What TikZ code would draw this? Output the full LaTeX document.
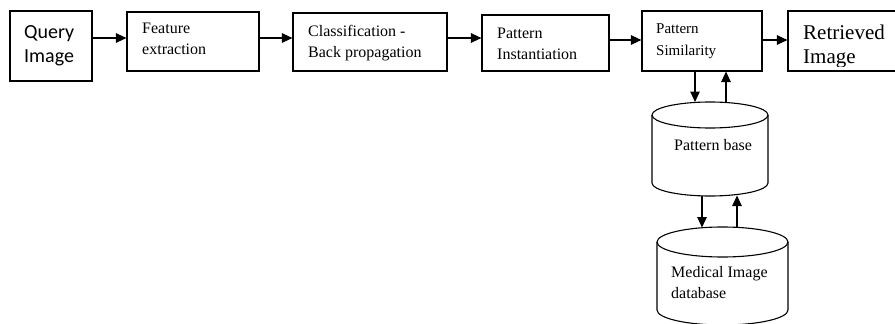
\documentclass[tikz,border=0pt]{standalone}
\usepackage{fontspec}
\setmainfont{Liberation Serif}
\newfontfamily\calfont{Carlito}
\usetikzlibrary{arrows.meta}
\begin{document}
\begin{tikzpicture}[x=1pt,y=-1pt,
  box/.style={draw,line width=1.1pt,inner sep=0pt},
  arr/.style={line width=1.1pt,-{Triangle[length=10.5pt,width=9.5pt]}},
  txt/.style={anchor=base west,inner sep=0pt,font=\fontsize{16}{19}\selectfont},
  qtxt/.style={anchor=base west,inner sep=0pt,font=\calfont\fontsize{20}{24}\selectfont},
  cyl/.style={draw,line width=1.1pt}]
\useasboundingbox (0,0) rectangle (895,324);
% boxes
\node[box,minimum width=82pt,minimum height=70pt] (qi) at (51,46) {};
\node[box,minimum width=132pt,minimum height=59pt] (fe) at (193,41.5) {};
\node[box,minimum width=154pt,minimum height=58pt] (cb) at (370,42) {};
\node[box,minimum width=127pt,minimum height=56pt] (pi) at (545.5,43) {};
\node[box,minimum width=120pt,minimum height=60pt] (ps) at (702,41) {};
\node[box,minimum width=120pt,minimum height=60pt] (ri) at (848,41) {};
% texts
\node[qtxt] (qi1) at (24,38) {Query};
\node[qtxt] (qi2) at (24,62) {Image};
\node[txt] (fe1) at (142,33) {Feature};
\node[txt] (fe2) at (142,54) {extraction};
\node[txt] (cb1) at (308,36) {Classification -};
\node[txt] (cb2) at (308,57) {Back propagation};
\node[txt] (pi1) at (497,38) {Pattern};
\node[txt] (pi2) at (497,59) {Instantiation};
\node[txt,font=\fontsize{15}{18}\selectfont] (ps1) at (656,33) {Pattern};
\node[txt,font=\fontsize{15}{18}\selectfont] (ps2) at (656,55) {Similarity};
\node[txt,font=\fontsize{21}{24}\selectfont] (ri1) at (803,39) {Retrieved};
\begin{scope}
\clip (788,44) rectangle (895,66.5);
\node[txt,font=\fontsize{21}{24}\selectfont] (ri2) at (803,63) {Image};
\end{scope}
% cylinders
\draw[cyl] (710,115) ellipse [x radius=58,y radius=13];
\draw[cyl] (652,115) -- (652,183) arc[start angle=180,end angle=360,x radius=58,y radius=-13] -- (768,115);
\coordinate (pbtop) at (710,102);
\coordinate (pbbot) at (710,195.5);
\node[txt] (pb1) at (674,150) {Pattern base};
\draw[cyl] (722.5,242) ellipse [x radius=65.5,y radius=15];
\draw[cyl] (657,242) -- (657,310) arc[start angle=180,end angle=360,x radius=65.5,y radius=-15] -- (788,242);
\coordinate (mdtop) at (722.5,227.5);
\node[txt] (md1) at (671,277) {Medical Image};
\node[txt] (md2) at (671,298) {database};
% connectors
\coordinate (rowa) at (0,38);
\coordinate (rowb) at (0,40);
\draw[arr] (qi.east |- rowa) -- (fe.west |- rowa);
\draw[arr] (fe.east |- rowa) -- (cb.west |- rowa);
\draw[arr] (cb.east |- rowa) -- (pi.west |- rowa);
\draw[arr] (pi.east |- rowb) -- (ps.west |- rowb);
\draw[arr] (ps.east |- rowb) -- (ri.west |- rowb);
\coordinate (c1) at (695,0);
\coordinate (c2) at (726,0);
\coordinate (c3) at (702,0);
\coordinate (c4) at (737,0);
\draw[arr] (ps.south -| c1) -- (pbtop -| c1);
\draw[arr] (pbtop -| c2) -- (ps.south -| c2);
\draw[arr] (pbbot -| c3) -- (mdtop -| c3);
\draw[arr] (mdtop -| c4) -- (pbbot -| c4);
\end{tikzpicture}
\end{document}
